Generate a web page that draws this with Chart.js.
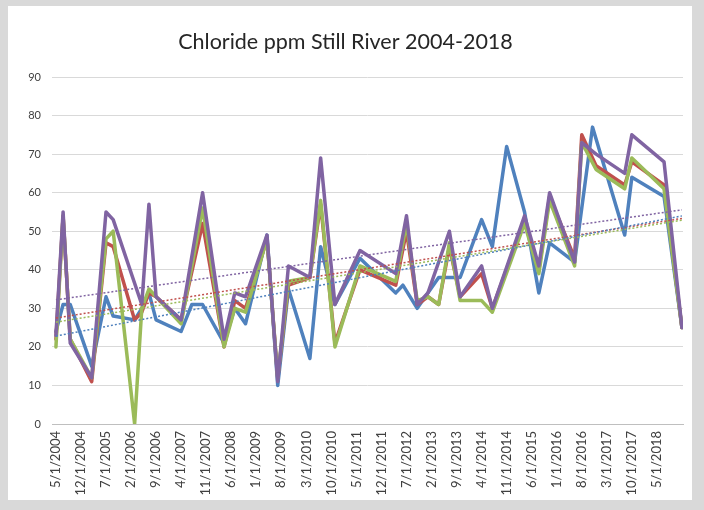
<!DOCTYPE html>
<html>
<head>
<meta charset="utf-8">
<script src="https://cdn.jsdelivr.net/npm/chart.js@4.4.1/dist/chart.umd.min.js"></script>
<style>
  html, body { margin: 0; padding: 0; width: 704px; height: 510px; overflow: hidden; background: #d9d9d9; }
  #frame { position: absolute; left: 8px; top: 6px; width: 684px; height: 494px; background: #ffffff; }
  canvas { display: block; }
</style>
</head>
<body>
<div id="frame"><canvas id="chart" width="684" height="494"></canvas></div>
<script>
// Sampling dates (year-month) and chloride readings (ppm) for each station
const sampleDates = [
  '2004-05','2004-07','2004-09','2005-03','2005-07','2005-09','2006-03','2006-05','2006-07','2006-09',
  '2007-04','2007-07','2007-10','2008-04','2008-07','2008-10','2009-04','2009-07','2009-10','2010-04',
  '2010-07','2010-11','2011-06','2012-04','2012-06','2012-07','2012-10','2013-01','2013-04','2013-07',
  '2013-10','2014-04','2014-07','2014-11','2015-04','2015-08','2015-11','2016-06','2016-08','2016-11',
  '2016-12','2017-08','2017-10','2018-07','2018-12'
];
const seriesBlue = [
  24, 31, 31, 15, 33, 28, 27, 30, 34, 27,
  24, 31, 31, 21, 30, 26, 49, 10, 35, 17,
  46, 31, 43, 34, 36, null, 30, null, 38, null,
  38, 53, 46, 72, 55, 34, 47, 42, null, 77,
  null, 49, 64, 59, 25
];
const seriesRed = [
  22, 54, 22, 11, 47, 46, 27, 29, 34, 33,
  27, null, 52, 20, 32, 30, 48, 12, 36, 38,
  57, 21, 40, 36, null, 50, 31, 33, 31, 46,
  33, 39, 30, null, 53, 40, 59, 43, 75, null,
  67, 62, 68, 62, 25
];
const seriesGreen = [
  20, 54, 22, 12, 48, 50, 0, 30, 35, 33,
  26, null, 56, 20, 30, 29, 48, 12, 37, 38,
  58, 20, 41, 37, null, 52, 32, 33, 31, 47,
  32, 32, 29, null, 52, 39, 58, 41, 73, null,
  66, 61, 69, 61, 25
];
const seriesPurple = [
  23, 55, 21, 12, 55, 53, null, 31, 57, 33,
  27, null, 60, 22, 34, 33, 49, 11, 41, 38,
  69, 31, 45, 39, null, 54, 31, 34, null, 50,
  33, 41, 30, null, 54, 41, 60, 42, 73, null,
  70, 65, 75, 68, 25
];
// Axis labels every seven months starting at 5/1/2004
const tickDates = [
  '2004-05','2004-12','2005-07','2006-02','2006-09','2007-04','2007-11','2008-06','2009-01','2009-08',
  '2010-03','2010-10','2011-05','2011-12','2012-07','2013-02','2013-09','2014-04','2014-11','2015-06',
  '2016-01','2016-08','2017-03','2017-10','2018-05'
];
const yTicks = [0, 10, 20, 30, 40, 50, 60, 70, 80, 90];

const BASE = 2004 * 12 + 4; // May 2004
const toMonth = s => { const [y, m] = s.split('-').map(Number); return y * 12 + (m - 1) - BASE; };
const monthLabel = v => { const t = BASE + Math.round(v); return (t % 12 + 1) + '/1/' + Math.floor(t / 12); };

const months = sampleDates.map(toMonth);
const tickMonths = tickDates.map(toMonth);

function points(values) {
  return months.map((m, i) => ({ x: m, y: values[i] })).filter(p => p.y !== null);
}
// least-squares linear trend over a series
function trend(values) {
  const pts = points(values);
  const n = pts.length;
  let sx = 0, sy = 0, sxx = 0, sxy = 0;
  pts.forEach(p => { sx += p.x; sy += p.y; sxx += p.x * p.x; sxy += p.x * p.y; });
  const b = (n * sxy - sx * sy) / (n * sxx - sx * sx);
  const a = (sy - b * sx) / n;
  const x0 = months[0], x1 = months[months.length - 1];
  return [{ x: x0, y: a + b * x0 }, { x: x1, y: a + b * x1 }];
}

const FONT = "Lato, 'Liberation Sans', Arial, sans-serif";
const colors = { blue: '#4F81BD', red: '#C0504D', green: '#9BBB59', purple: '#8064A2' };
const series = [
  { name: 'Blue', values: seriesBlue, color: colors.blue, order: 4 },
  { name: 'Red', values: seriesRed, color: colors.red, order: 3 },
  { name: 'Green', values: seriesGreen, color: colors.green, order: 2 },
  { name: 'Purple', values: seriesPurple, color: colors.purple, order: 1 }
];

const datasets = [];
series.forEach(s => {
  datasets.push({
    label: s.name, data: points(s.values), borderColor: s.color, backgroundColor: s.color,
    borderWidth: 3.5, pointRadius: 0, tension: 0, order: s.order,
    borderJoinStyle: 'round', borderCapStyle: 'round'
  });
});
series.forEach(s => {
  datasets.push({
    label: s.name + ' trend', data: trend(s.values), borderColor: s.color,
    borderWidth: 1.5, borderDash: [2, 2], pointRadius: 0, tension: 0, order: 0
  });
});

new Chart(document.getElementById('chart'), {
  type: 'line',
  data: { datasets },
  options: {
    responsive: false,
    animation: false,
    layout: { padding: { left: 0, right: 9, top: 0, bottom: 0 } },
    plugins: {
      legend: { display: false },
      tooltip: { enabled: false },
      title: {
        display: true, text: 'Chloride ppm Still River 2004-2018', color: '#262626',
        font: { family: FONT, size: 21.5, weight: 'normal' }, padding: { top: 23, bottom: 22.2 }
      }
    },
    scales: {
      x: {
        type: 'linear', min: -1.1, max: 175.3,
        afterBuildTicks: s => { s.ticks = tickMonths.map(v => ({ value: v })); },
        afterFit: s => { s.height = 76; },
        grid: { display: false, drawTicks: false },
        border: { display: true, color: '#bfbfbf', width: 1 },
        ticks: {
          autoSkip: false, maxRotation: 90, minRotation: 90, padding: 7,
          color: '#404040', font: { family: FONT, size: 13 },
          callback: v => monthLabel(v)
        }
      },
      y: {
        min: 0, max: 90,
        afterBuildTicks: s => { s.ticks = yTicks.map(v => ({ value: v })); },
        afterFit: s => { s.width = 44; },
        grid: { color: '#d9d9d9', drawTicks: false },
        border: { display: false },
        ticks: { padding: 11, color: '#404040', font: { family: FONT, size: 11 } }
      }
    }
  }
});
</script>
</body>
</html>
